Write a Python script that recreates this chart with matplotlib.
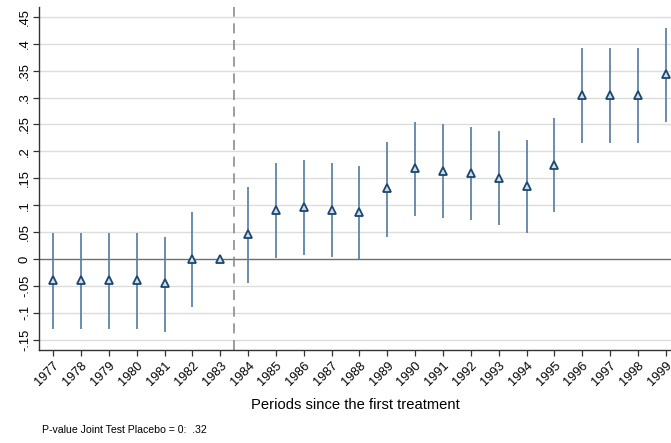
import matplotlib
matplotlib.use("Agg")
import matplotlib.pyplot as plt
import numpy as np

plt.rcParams["font.family"] = ["Liberation Sans", "DejaVu Sans"]

# event-study estimates with 95% confidence bounds
years = list(range(1977, 2000))
coef = [-0.039, -0.039, -0.039, -0.039, -0.045, 0.0, 0.0,
        0.046, 0.091, 0.097, 0.091, 0.087, 0.131, 0.169, 0.164,
        0.160, 0.150, 0.136, 0.175, 0.305, 0.305, 0.305, 0.344]
ci_low = [-0.130, -0.130, -0.130, -0.130, -0.135, -0.090, 0.0,
          -0.044, 0.001, 0.008, 0.003, 0.0, 0.041, 0.080, 0.076,
          0.072, 0.063, 0.049, 0.088, 0.216, 0.216, 0.216, 0.255]
ci_high = [0.048, 0.048, 0.048, 0.048, 0.041, 0.087, 0.0,
           0.133, 0.178, 0.183, 0.178, 0.173, 0.217, 0.255, 0.251,
           0.246, 0.237, 0.222, 0.262, 0.392, 0.392, 0.392, 0.430]
y_ticks = [-0.15, -0.1, -0.05, 0, 0.05, 0.1, 0.15, 0.2, 0.25, 0.3, 0.35, 0.4, 0.45]
treatment_break = 1983.5
pvalue_note = "P-value Joint Test Placebo = 0:  .32"


def stata_fmt(v: float) -> str:
    # Stata-style labels: drop the leading zero
    if abs(v) < 1e-9:
        return "0"
    return f"{v:g}".replace("0.", ".")


fig = plt.figure(figsize=(6.71, 4.43), dpi=100)
ax = fig.add_axes([0.0586, 0.21, 0.9414, 0.774])

ax.set_ylim(-0.169, 0.468)
ax.set_xlim(1976.5, 1999.19)

for t in y_ticks:
    if t != 0:
        ax.axhline(t, color="#dcdcdc", lw=1.0, zorder=0)
ax.axhline(0, color="#6e6e6e", lw=1.0, zorder=1)
ax.axvline(treatment_break, color="#8c8c8c", lw=1.2, dashes=(6, 4), zorder=1)

x = np.array(years)
ax.vlines(x, ci_low, ci_high, color="#5f83a5", lw=1.3, zorder=2)
ax.plot(x, coef, linestyle="none", marker="^", markersize=5.2,
        markerfacecolor="#d3dde8", markeredgecolor="#1a476f",
        markeredgewidth=1.3, zorder=3)

ax.set_yticks(y_ticks)
ax.set_yticklabels([stata_fmt(t) for t in y_ticks], rotation=90, va="center", fontsize=9.4)
ax.set_xticks(years)
ax.set_xticklabels([str(y) for y in years], rotation=45, ha="right",
                   rotation_mode="anchor", fontsize=9.2)
ax.tick_params(axis="both", direction="out", length=4, width=0.9, color="#333333")
ax.tick_params(axis="x", pad=3)
ax.tick_params(axis="y", pad=2)

ax.spines[["top", "right"]].set_visible(False)
for side in ["left", "bottom"]:
    ax.spines[side].set_color("#333333")
    ax.spines[side].set_linewidth(1.0)

ax.set_xlabel("Periods since the first treatment", fontsize=10.6, labelpad=7)
fig.text(0.063, 0.018, pvalue_note, fontsize=7.6, ha="left", va="bottom")

fig.savefig("out.png", dpi=100)
plt.close(fig)
